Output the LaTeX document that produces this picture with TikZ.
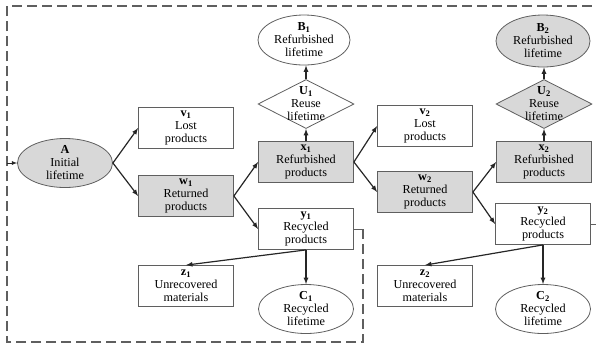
\documentclass[tikz,border=0pt]{standalone}
\usepackage{fontspec}
\setmainfont{Liberation Serif}
\usepackage{tikz}
\usetikzlibrary{arrows,shapes,calc}
\definecolor{boxgray}{RGB}{216,216,216}
\definecolor{edgegray}{RGB}{95,95,95}
\newcommand{\lab}[2]{\textbf{#1\textsubscript{#2}}}

\begin{document}
\begin{tikzpicture}[x=1pt,y=-1pt,>=latex,
  box/.style={draw=edgegray,line width=0.8pt,rectangle,minimum width=95pt,minimum height=41pt,inner sep=1pt,align=center,font=\fontsize{12.2}{13}\selectfont},
  oval/.style={draw=edgegray,line width=0.8pt,ellipse,minimum width=95pt,minimum height=49pt,inner sep=0pt},
  dia/.style={draw=edgegray,line width=0.8pt,diamond,minimum width=96pt,minimum height=49pt,inner sep=0pt},
  txt/.style={align=center,inner sep=0pt,font=\fontsize{12.2}{13}\selectfont},
  grey/.style={fill=boxgray},
  flow/.style={->,line width=1.2pt,black!85},
  frame/.style={draw=edgegray,line width=1.7pt,dash pattern=on 10pt off 5pt}]
\useasboundingbox (0,0) rectangle (596,349);

% system boundary
\coordinate (inA) at (7,163);
\coordinate (cut1) at (363,229);
\coordinate (outY2) at (596,224);
\draw[frame] (cut1) -- (363,342) -- (7,342) -- (7,6) -- (596,6);

% first life cycle
\node (A) at (65,163) [oval,grey] {};
\node (Atxt) at (A) [txt] {\textbf{A}\\Initial\\lifetime};
\node (v1) at (186,128) [box] {\lab{v}{1}\\Lost\\products};
\node (w1) at (186,196) [box,grey] {\lab{w}{1}\\Returned\\products};
\node (x1) at (306,162) [box,grey] {\lab{x}{1}\\Refurbished\\products};
\node (U1) at (306,104) [dia] {};
\node (U1txt) at (U1) [txt] {\lab{U}{1}\\Reuse\\lifetime};
\node (B1) at (304,40) [oval,minimum width=92pt,minimum height=50pt] {};
\node (B1txt) at (B1) [txt] {\lab{B}{1}\\Refurbished\\lifetime};
\node (y1) at (306,229) [box] {\lab{y}{1}\\Recycled\\products};
\node (z1) at (186,286) [box] {\lab{z}{1}\\Unrecovered\\materials};
\node (C1) at (306,309) [oval] {};
\node (C1txt) at (C1) [txt] {\lab{C}{1}\\Recycled\\lifetime};

% second life cycle
\node (v2) at (425,126) [box] {\lab{v}{2}\\Lost\\products};
\node (w2) at (425,192) [box,grey] {\lab{w}{2}\\Returned\\products};
\node (x2) at (544,162) [box,grey] {\lab{x}{2}\\Refurbished\\products};
\node (U2) at (544,104) [dia,grey] {};
\node (U2txt) at (U2) [txt] {\lab{U}{2}\\Reuse\\lifetime};
\node (B2) at (543,41) [oval,grey,minimum width=94pt,minimum height=52pt] {};
\node (B2txt) at (B2) [txt] {\lab{B}{2}\\Refurbished\\lifetime};
\node (y2) at (543,224) [box] {\lab{y}{2}\\Recycled\\products};
\node (z2) at (425,286) [box] {\lab{z}{2}\\Unrecovered\\materials};
\node (C2) at (543,309) [oval] {};
\node (C2txt) at (C2) [txt] {\lab{C}{2}\\Recycled\\lifetime};

% flows
\draw[->,line width=0.8pt,black!85] (inA) -- (A.west);
\draw[flow] (A.east) -- (v1.west);
\draw[flow] (A.east) -- (w1.west);
\draw[flow] (w1.east) -- (x1.west);
\draw[flow] (w1.east) -- (y1.west);
\draw[flow] (x1.north) -- (U1.south);
\draw[flow] (U1.north) -- (U1.north |- B1.south);
\draw[flow] (y1.south) -- (C1.north);
\draw[flow] (y1.south) -- (z1.north);
\draw[line width=0.8pt,edgegray] (y1.east) -- (cut1);
\draw[flow] (x1.east) -- (v2.west);
\draw[flow] (x1.east) -- (w2.west);
\draw[flow] (w2.east) -- (x2.west);
\draw[flow] (w2.east) -- (y2.west);
\draw[flow] (x2.north) -- (U2.south);
\draw[flow] (U2.north) -- (U2.north |- B2.south);
\draw[flow] (y2.south) -- (z2.north);
\draw[flow] (y2.south) -- (C2.north);
\draw[line width=0.8pt,edgegray] (y2.east) -- (outY2);
\end{tikzpicture}
\end{document}
